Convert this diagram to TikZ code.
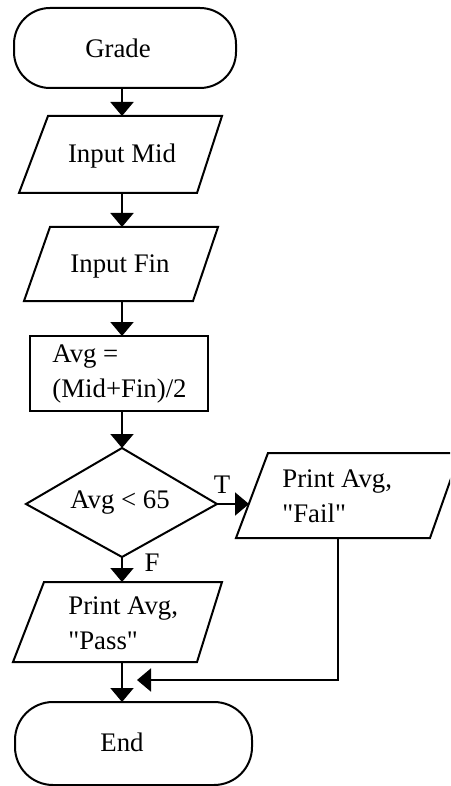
\documentclass[tikz,border=0pt]{standalone}
\usepackage{fontspec}
\setmainfont{Liberation Serif}
\newfontfamily\flowfont{Liberation Serif}
\usetikzlibrary{arrows.meta}
\tikzset{
  shapeline/.style={line width=1pt},
  flowarrow/.style={line width=1pt,-{Triangle[length=7pt,width=11.5pt]}},
  txt/.style={inner sep=0pt,font=\flowfont\fontsize{13.4}{17.5}\selectfont},
  txtl/.style={txt,align=left,anchor=west},
}
\begin{document}
\begin{tikzpicture}[x=0.5pt,y=-0.5pt]
\clip (0,0) rectangle (450,786);
\fill[white] (0,0) rectangle (450,786);
% anchor coordinates
\coordinate (grade-s) at (122,88);
\coordinate (mid-n) at (122,116);
\coordinate (mid-s) at (122,193);
\coordinate (fin-n) at (122,227);
\coordinate (fin-s) at (122,301);
\coordinate (avg-n) at (122,336);
\coordinate (avg-s) at (122,411);
\coordinate (dec-n) at (122,448);
\coordinate (dec-e) at (215,504);
\coordinate (dec-s) at (122,557);
\coordinate (fail-w) at (249,504);
\coordinate (fail-s) at (338,538);
\coordinate (pass-n) at (122,582);
\coordinate (pass-s) at (122,662);
\coordinate (end-n) at (122,702);
\coordinate (join) at (137,680);
% shapes
\draw[shapeline,rounded corners=18pt] (14,8) rectangle (236,88);
\draw[shapeline] (48,116) -- (222,116) -- (197,193) -- (19,193) -- cycle;
\draw[shapeline] (50,227) -- (218,227) -- (193,301) -- (24,301) -- cycle;
\draw[shapeline] (30,336) rectangle (208,411);
\draw[shapeline] (dec-n) -- (217,504) -- (dec-s) -- (26,504) -- cycle;
\draw[shapeline] (268,453) -- (460,453) -- (430,538) -- (236,538) -- cycle;
\draw[shapeline] (44,582) -- (222,582) -- (197,662) -- (13,662) -- cycle;
\draw[shapeline,rounded corners=19pt] (15,702) rectangle (252,785);
% texts
\node[txt] (grade) at (118,48) {Grade};
\node[txt] (mid) at (122,156) {Input Mid};
\node[txt] (fin) at (120,266) {Input Fin};
\node[txtl] (avg) at (52,374) {Avg =\\(Mid+Fin)/2};
\node[txt] (dec) at (120,503) {Avg < 65};
\node[txtl] (fail) at (282,496) {Print Avg,\\"Fail"};
\node[txtl] (pass) at (68,623) {Print Avg,\\"Pass"};
\node[txt] (endt) at (122,742) {End};
\node[txt] (tlab) at (222,485) {T};
\node[txt] (flab) at (152,563) {F};
% connectors
\draw[flowarrow] (grade-s) -- (mid-n);
\draw[flowarrow] (mid-s) -- (fin-n);
\draw[flowarrow] (fin-s) -- (avg-n);
\draw[flowarrow] (avg-s) -- (dec-n);
\draw[flowarrow] (dec-e) -- (fail-w);
\draw[flowarrow] (dec-s) -- (pass-n);
\draw[flowarrow] (pass-s) -- (end-n);
\draw[flowarrow] (fail-s) |- (join);
\end{tikzpicture}
\end{document}
